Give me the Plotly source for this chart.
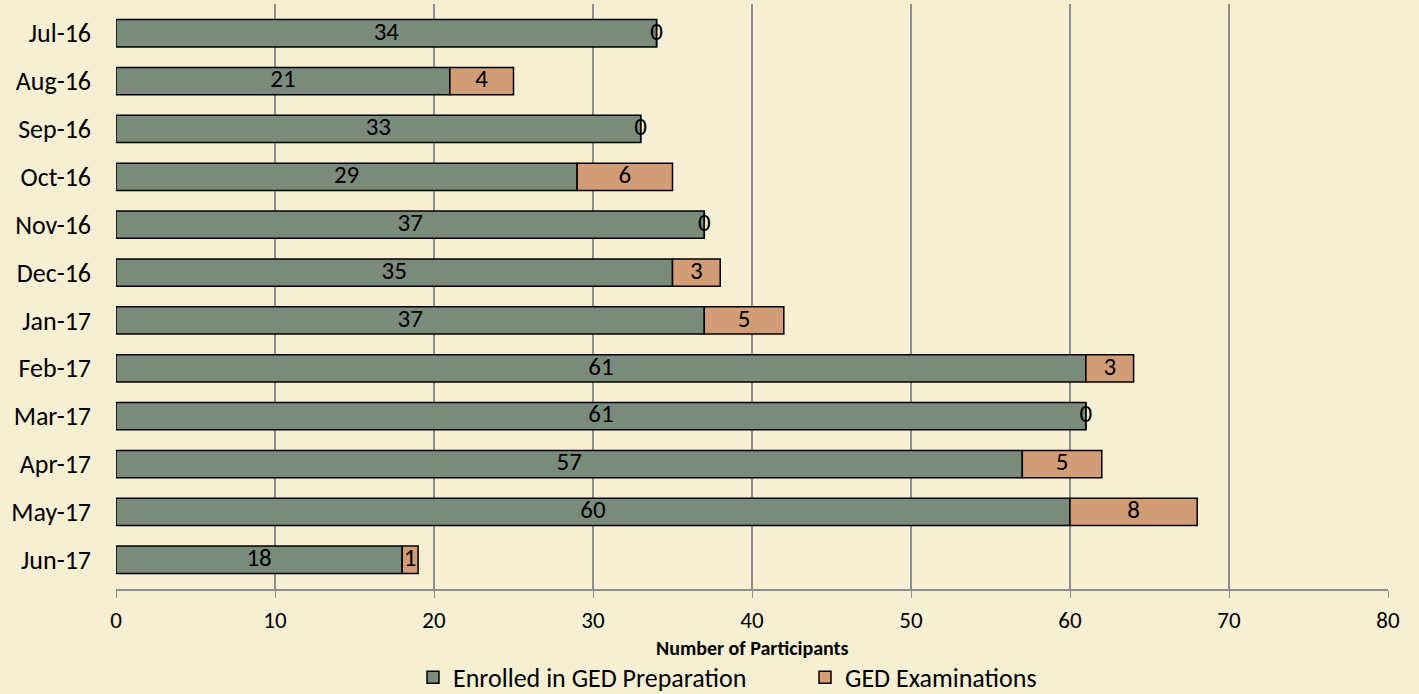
import plotly.graph_objects as go

months = ["Jul-16", "Aug-16", "Sep-16", "Oct-16", "Nov-16", "Dec-16",
          "Jan-17", "Feb-17", "Mar-17", "Apr-17", "May-17", "Jun-17"]
enrolled = [34, 21, 33, 29, 37, 35, 37, 61, 61, 57, 60, 18]
exams = [0, 4, 0, 6, 0, 3, 5, 3, 0, 5, 8, 1]
x_ticks = [0, 10, 20, 30, 40, 50, 60, 70, 80]
x_title = "Number of Participants"

FONT = "Carlito, Calibri, Lato, sans-serif"
GREEN = "#7B8B7B"
ORANGE = "#D19C76"
BG = "#F6EFD3"

fig = go.Figure()
fig.add_trace(go.Bar(
    y=months, x=enrolled, orientation="h", name="Enrolled in GED Preparation",
    marker=dict(color=GREEN, line=dict(color="black", width=1.5)),
    width=0.57, hoverinfo="x+y",
))
fig.add_trace(go.Bar(
    y=months, x=exams, base=enrolled, orientation="h", name="GED Examinations",
    marker=dict(color=ORANGE, line=dict(color="black", width=1.5)),
    width=0.57, hoverinfo="x+y",
))
# data labels centred on each segment
fig.add_trace(go.Scatter(
    y=months, x=[v / 2 for v in enrolled], mode="text",
    text=[str(v) for v in enrolled], textfont=dict(family=FONT, size=25, color="black"),
    showlegend=False, hoverinfo="skip",
))
fig.add_trace(go.Scatter(
    y=months, x=[a + b / 2 for a, b in zip(enrolled, exams)], mode="text",
    text=[str(v) for v in exams], textfont=dict(family=FONT, size=25, color="black"),
    showlegend=False, hoverinfo="skip",
))

fig.add_annotation(text="<b>" + x_title + "</b>", xref="paper", yref="paper",
                   x=0.5, y=-0.101, xanchor="center", yanchor="middle", showarrow=False,
                   font=dict(family=FONT, size=20, color="black"))

fig.update_layout(
    width=1419, height=694,
    barmode="overlay",
    paper_bgcolor=BG, plot_bgcolor=BG,
    margin=dict(l=116, r=31, t=4, b=105, autoexpand=False),
    font=dict(family=FONT, size=23, color="black"),
    legend=dict(orientation="h", x=0.2335, xanchor="left", yref="container",
                y=0.024, yanchor="middle", entrywidth=347,
                font=dict(family=FONT, size=26), itemwidth=30, traceorder="normal",
                bgcolor="rgba(0,0,0,0)"),
    xaxis=dict(range=[0, 80], tickvals=x_ticks, showgrid=True, gridcolor="#8E8E8E",
               gridwidth=1.5, zeroline=False, showline=True, linecolor="#8E8E8E",
               linewidth=1.5, ticks="outside", ticklen=7, tickcolor="#8E8E8E",
               tickfont=dict(family=FONT, size=23), automargin=False,
               ticklabelstandoff=3),
    yaxis=dict(categoryorder="array", categoryarray=months, autorange="reversed",
               showgrid=False, zeroline=False, showline=False, ticks="",
               ticklabelstandoff=24, automargin=False,
               tickfont=dict(family=FONT, size=26)),
)

fig.write_html("out.html", post_script="document.body.style.margin='0';",
               config={"displayModeBar": False})
